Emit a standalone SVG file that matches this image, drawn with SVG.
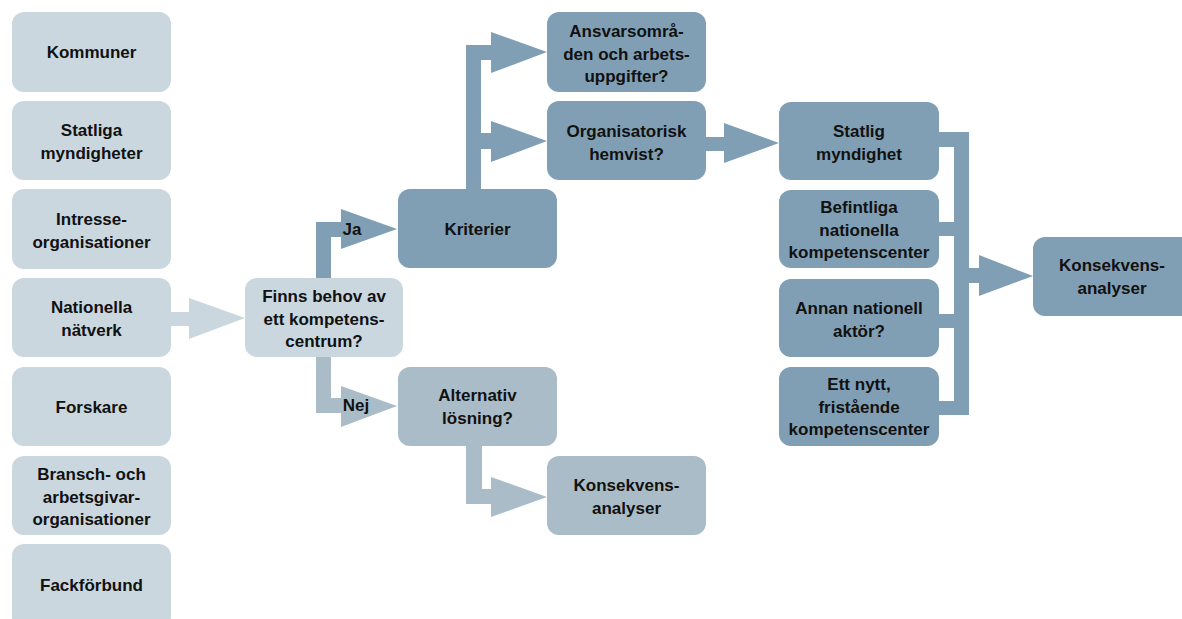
<svg xmlns="http://www.w3.org/2000/svg" width="1182" height="619" viewBox="0 0 1182 619">
<style>
.n rect{rx:12px;ry:12px}
.l rect{fill:#cad7de}
.m rect{fill:#809fb4}
.a rect{fill:#a9bcc8}
text{font-family:"Liberation Sans",Arial,sans-serif;font-weight:bold;font-size:17px;fill:#111;text-anchor:middle}
.cl{fill:#cad7de}.cm{fill:#809fb4}.ca{fill:#a9bcc8}
</style>
<rect width="1182" height="619" fill="#fff"/>
<g id="connectors">
<polygon class="cl" points="171,312 189,312 189,298 245,318 189,339 189,326 171,326"/>
<polygon class="cm" points="316,278 316,222 341,222 341,209 397,229 341,249 341,237 331,237 331,278"/>
<polygon class="ca" points="316,357 316,413 341,413 341,427 397,406 341,386 341,398 331,398 331,357"/>
<polygon class="ca" points="466,446 466,504 491,504 491,517 547,497 491,477 491,489 482,489 482,446"/>
<polygon class="cm" points="466,189 466,45 491,45 491,32 547,52 491,73 491,60 481,60 481,133 491,133 491,121 547,141 491,162 491,149 481,149 481,189"/>
<polygon class="cm" points="706,137 724,137 724,123 779,143 724,163 724,151 706,151"/>
<polygon class="cm" points="939,132 969,132 969,268 979,268 979,255 1033,276 979,296 979,283 969,283 969,415 939,415 939,401 954,401 954,328 939,328 939,314 954,314 954,236 939,236 939,222 954,222 954,147 939,147"/>
<text x="352" y="235">Ja</text>
<text x="356" y="411">Nej</text>
</g>
<g id="kommuner" class="n l"><rect x="12" y="12" width="159" height="80"/><text x="91.5" y="58">Kommuner</text></g>
<g id="statliga" class="n l"><rect x="12" y="101" width="159" height="79"/><text x="91.5" y="136">Statliga</text><text x="91.5" y="159">myndigheter</text></g>
<g id="intresse" class="n l"><rect x="12" y="189" width="159" height="80"/><text x="91.5" y="225">Intresse-</text><text x="91.5" y="248">organisationer</text></g>
<g id="nationella" class="n l"><rect x="12" y="278" width="159" height="79"/><text x="91.5" y="313">Nationella</text><text x="91.5" y="336">nätverk</text></g>
<g id="forskare" class="n l"><rect x="12" y="367" width="159" height="79"/><text x="91.5" y="413">Forskare</text></g>
<g id="bransch" class="n l"><rect x="12" y="456" width="159" height="79"/><text x="91.5" y="480">Bransch- och</text><text x="91.5" y="502.5">arbetsgivar-</text><text x="91.5" y="525">organisationer</text></g>
<g id="fackforbund" class="n l"><rect x="12" y="544" width="159" height="85"/><text x="91.5" y="591">Fackförbund</text></g>
<g id="finns" class="n l"><rect x="245" y="278" width="158" height="79"/><text x="324" y="302">Finns behov av</text><text x="324" y="324.5">ett kompetens-</text><text x="324" y="347">centrum?</text></g>
<g id="kriterier" class="n m"><rect x="398" y="189" width="159" height="79"/><text x="477.5" y="235">Kriterier</text></g>
<g id="alternativ" class="n a"><rect x="398" y="367" width="159" height="79"/><text x="477.5" y="401">Alternativ</text><text x="477.5" y="423.5">lösning?</text></g>
<g id="ansvar" class="n m"><rect x="547" y="12" width="159" height="80"/><text x="626.5" y="37">Ansvarsområ-</text><text x="626.5" y="59.5">den och arbets-</text><text x="626.5" y="82">uppgifter?</text></g>
<g id="organisatorisk" class="n m"><rect x="547" y="101" width="159" height="79"/><text x="626.5" y="137">Organisatorisk</text><text x="626.5" y="159.5">hemvist?</text></g>
<g id="konsekvens1" class="n a"><rect x="547" y="456" width="159" height="79"/><text x="626.5" y="491">Konsekvens-</text><text x="626.5" y="513.5">analyser</text></g>
<g id="statlig" class="n m"><rect x="779" y="102" width="160" height="78"/><text x="859" y="137">Statlig</text><text x="859" y="159.5">myndighet</text></g>
<g id="befintliga" class="n m"><rect x="779" y="190" width="160" height="78"/><text x="859" y="213">Befintliga</text><text x="859" y="235.5">nationella</text><text x="859" y="258">kompetenscenter</text></g>
<g id="annan" class="n m"><rect x="779" y="279" width="160" height="78"/><text x="859" y="314">Annan nationell</text><text x="859" y="336.5">aktör?</text></g>
<g id="ettnytt" class="n m"><rect x="779" y="367" width="160" height="79"/><text x="859" y="390">Ett nytt,</text><text x="859" y="412.5">fristående</text><text x="859" y="435">kompetenscenter</text></g>
<g id="konsekvens2" class="n m"><rect x="1033" y="237" width="165" height="79"/><text x="1112" y="271">Konsekvens-</text><text x="1112" y="293.5">analyser</text></g>
</svg>
